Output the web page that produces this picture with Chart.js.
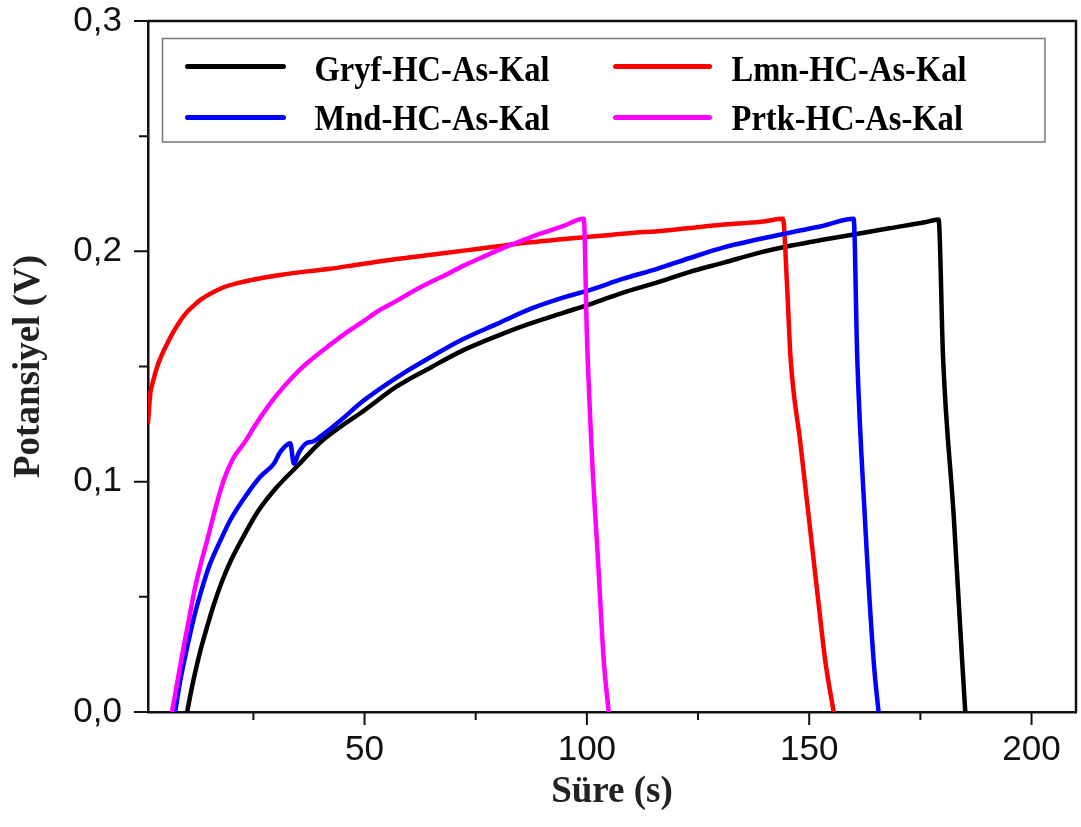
<!DOCTYPE html>
<html lang="tr">
<head>
<meta charset="UTF-8">
<title>Şarj-Deşarj Eğrileri</title>
<script src="https://cdn.jsdelivr.net/npm/chart.js@4.4.1/dist/chart.umd.min.js"></script>
<style>
  html, body { margin: 0; padding: 0; background: #fff; }
  canvas { display: block; }
</style>
</head>
<body>
<canvas id="gcdChart" width="1081" height="827"></canvas>
<script>
  // Galvanostatik şarj-deşarj: süre (s) ve potansiyel (V)
  const gryfTime = [10.1, 11, 12, 13, 14, 16, 18, 20, 23, 26, 30, 35, 40, 45, 50, 57, 65, 72, 80, 87, 95, 101, 108, 116, 123, 131, 138, 146, 153, 161, 168, 176, 179.1, 180.1, 182.5, 184.4, 185.1];
  const gryfPotential = [0, 0.009, 0.018, 0.026, 0.033, 0.046, 0.057, 0.066, 0.077, 0.087, 0.097, 0.107, 0.117, 0.1244, 0.131, 0.141, 0.1497, 0.1569, 0.1634, 0.1685, 0.1735, 0.1772, 0.182, 0.1866, 0.191, 0.1952, 0.199, 0.2025, 0.205, 0.2076, 0.21, 0.2126, 0.2138, 0.154, 0.085, 0.022, 0];

  const lmnTime = [1.3, 1.82, 2.5, 3.33, 4.4, 5.58, 7, 8.57, 10, 11.56, 13, 14.57, 16.5, 18.3, 21, 25.8, 31, 37.1, 42.3, 48.3, 57.3, 65, 72.3, 80, 87.3, 93, 99.3, 105.3, 110, 115.8, 123, 130.8, 135, 139.8, 144.1, 145.0, 145.8, 148, 150, 152, 153.6, 155.5];
  const lmnPotential = [0.1257, 0.1381, 0.144, 0.1497, 0.155, 0.1598, 0.165, 0.1699, 0.1735, 0.1764, 0.1788, 0.1808, 0.1828, 0.1844, 0.186, 0.188, 0.1897, 0.1913, 0.1924, 0.1942, 0.1967, 0.1985, 0.2003, 0.2022, 0.2039, 0.205, 0.2061, 0.2071, 0.208, 0.2087, 0.2101, 0.2116, 0.2122, 0.213, 0.2141, 0.186, 0.154, 0.117, 0.083, 0.049, 0.0224, 0];

  const mndTime = [7.4, 8.5, 10.1, 11.5, 13.1, 15, 17.6, 20, 23.6, 26.5, 29.6, 31.1, 33.3, 34.1, 35.2, 36.7, 38.6, 41, 44.6, 49.8, 57.3, 64.8, 72.3, 79.8, 87.3, 94.8, 100.8, 108, 115.8, 123, 130.8, 138, 145.8, 153, 160.0, 160.8, 162.5, 164.5, 165.6];
  const mndPotential = [0, 0.013, 0.028, 0.04, 0.0514, 0.063, 0.0745, 0.084, 0.0947, 0.102, 0.1078, 0.113, 0.1167, 0.1078, 0.1125, 0.1164, 0.1176, 0.121, 0.1266, 0.1352, 0.1453, 0.154, 0.162, 0.1685, 0.175, 0.18, 0.1833, 0.188, 0.1924, 0.197, 0.2017, 0.205, 0.2082, 0.211, 0.2141, 0.154, 0.085, 0.022, 0];

  const prtkTime = [6.7, 8, 9.3, 10.5, 11.6, 13, 14.6, 16, 17.6, 19, 20.6, 23, 25.1, 27.5, 30, 34.1, 37.1, 42.3, 46, 49.8, 53, 57.3, 61, 64.8, 68.5, 72.3, 76, 79.8, 83.5, 87.3, 91, 94.8, 99.3, 100.0, 101.2, 102.5, 103.8, 104.9];
  const prtkPotential = [0, 0.014, 0.028, 0.04, 0.0514, 0.063, 0.0745, 0.085, 0.0962, 0.104, 0.1106, 0.117, 0.1235, 0.1305, 0.137, 0.146, 0.1515, 0.1595, 0.1648, 0.1697, 0.174, 0.1786, 0.1828, 0.1866, 0.19, 0.1938, 0.197, 0.2003, 0.2032, 0.2061, 0.2086, 0.2111, 0.2141, 0.164, 0.109, 0.066, 0.0224, 0];

  const seriesLabels = ['Gryf-HC-As-Kal', 'Lmn-HC-As-Kal', 'Mnd-HC-As-Kal', 'Prtk-HC-As-Kal'];
  const seriesColors = ['#000000', '#ff0000', '#0000ff', '#ff00ff'];

  const xMajorTicks = [50, 100, 150, 200];
  const yTickLabels = ['0,0', '0,1', '0,2', '0,3'];

  function toPoints(times, values) {
    return times.map((t, i) => ({ x: t, y: values[i] }));
  }

  const seriesData = [
    toPoints(gryfTime, gryfPotential),
    toPoints(lmnTime, lmnPotential),
    toPoints(mndTime, mndPotential),
    toPoints(prtkTime, prtkPotential)
  ];

  // top/right frame lines plus outward major and minor ticks
  const frameTicks = {
    id: 'frameTicks',
    afterDraw(chart) {
      const { ctx, chartArea: a, scales: { x, y } } = chart;
      ctx.save();
      ctx.strokeStyle = '#111';
      ctx.lineWidth = 2.5;
      ctx.beginPath();
      ctx.moveTo(a.left, a.top);
      ctx.lineTo(a.right, a.top);
      ctx.lineTo(a.right, a.bottom);
      ctx.stroke();

      ctx.lineWidth = 2;
      ctx.beginPath();
      x.ticks.forEach(t => {
        const px = x.getPixelForValue(t.value);
        const len = t.label ? 13 : 8;
        ctx.moveTo(px, a.bottom);
        ctx.lineTo(px, a.bottom + len);
      });
      y.ticks.forEach(t => {
        const py = y.getPixelForValue(t.value);
        const len = t.label ? 14 : 9;
        ctx.moveTo(a.left, py);
        ctx.lineTo(a.left - len, py);
      });
      ctx.stroke();
      ctx.restore();
    }
  };

  // boxed two-column legend in the upper part of the plot
  const boxLegend = {
    id: 'boxLegend',
    afterDatasetsDraw(chart) {
      const { ctx, chartArea: a } = chart;
      const left = a.left + 14.5;
      const top = a.top + 17.5;
      const right = 1045;
      const bottom = top + 103.5;
      ctx.save();
      ctx.fillStyle = '#fff';
      ctx.fillRect(left, top, right - left, bottom - top);
      ctx.strokeStyle = '#777';
      ctx.lineWidth = 1.5;
      ctx.strokeRect(left, top, right - left, bottom - top);

      const cols = [
        { lineFrom: left + 25, lineTo: left + 121, text: left + 152 },
        { lineFrom: left + 453, lineTo: left + 547, text: left + 569 }
      ];
      const rows = [{ line: top + 28, base: top + 42 }, { line: top + 79, base: top + 91 }];

      ctx.font = 'bold 35px "Liberation Serif", "Times New Roman", serif';
      ctx.textBaseline = 'alphabetic';
      ctx.textAlign = 'left';
      chart.data.datasets.forEach((ds, i) => {
        const c = cols[i % 2];
        const r = rows[Math.floor(i / 2)];
        ctx.strokeStyle = ds.borderColor;
        ctx.lineWidth = 5;
        ctx.lineCap = 'round';
        ctx.beginPath();
        ctx.moveTo(c.lineFrom, r.line);
        ctx.lineTo(c.lineTo, r.line);
        ctx.stroke();
        // narrow bold face, as in the plotting software's legend
        ctx.save();
        ctx.translate(c.text, r.base);
        ctx.scale(0.93, 1);
        ctx.fillStyle = '#000';
        ctx.fillText(ds.label, 0, 0);
        ctx.restore();
      });
      ctx.restore();
    }
  };

  const ctx = document.getElementById('gcdChart').getContext('2d');
  new Chart(ctx, {
    type: 'line',
    data: {
      datasets: seriesData.map((pts, i) => ({
        label: seriesLabels[i],
        data: pts,
        borderColor: seriesColors[i],
        backgroundColor: seriesColors[i],
        order: 4 - i
      }))
    },
    options: {
      responsive: false,
      animation: false,
      events: [],
      layout: { padding: { top: 21, right: 5, left: 0, bottom: 0 } },
      elements: {
        point: { radius: 0 },
        line: { borderWidth: 4.5, cubicInterpolationMode: 'monotone', borderJoinStyle: 'round', borderCapStyle: 'round' }
      },
      plugins: {
        legend: { display: false },
        tooltip: { enabled: false }
      },
      scales: {
        x: {
          type: 'linear',
          min: 1.3,
          max: 210,
          afterFit: s => { s.height = 115; s.paddingLeft = 0; s.paddingRight = 0; },
          grid: { display: false, drawTicks: false },
          border: { display: true, color: '#111', width: 2.5 },
          ticks: {
            stepSize: 25,
            includeBounds: false,
            autoSkip: false,
            maxRotation: 0,
            padding: 17,
            color: '#111',
            font: { family: 'Liberation Sans', size: 35 },
            callback: v => xMajorTicks.includes(v) ? String(v) : ''
          },
          title: {
            display: true,
            text: 'Süre (s)',
            color: '#222',
            font: { family: 'Liberation Serif', size: 37, weight: 'bold' },
            padding: { top: 0, bottom: 12 }
          }
        },
        y: {
          min: 0,
          max: 0.3,
          afterFit: s => { s.width = 148; s.paddingTop = 0; s.paddingBottom = 0; },
          grid: { display: false, drawTicks: false },
          border: { display: true, color: '#111', width: 2.5 },
          ticks: {
            stepSize: 0.05,
            autoSkip: false,
            padding: 26,
            color: '#111',
            font: { family: 'Liberation Sans', size: 35 },
            callback: v => {
              const k = Math.round(v * 10);
              return Math.abs(v * 10 - k) < 1e-6 ? yTickLabels[k] : '';
            }
          },
          title: {
            display: true,
            text: 'Potansiyel (V)',
            color: '#222',
            font: { family: 'Liberation Serif', size: 37, weight: 'bold' },
            padding: { top: 7, bottom: 0 }
          }
        }
      }
    },
    plugins: [frameTicks, boxLegend]
  });
</script>
</body>
</html>
